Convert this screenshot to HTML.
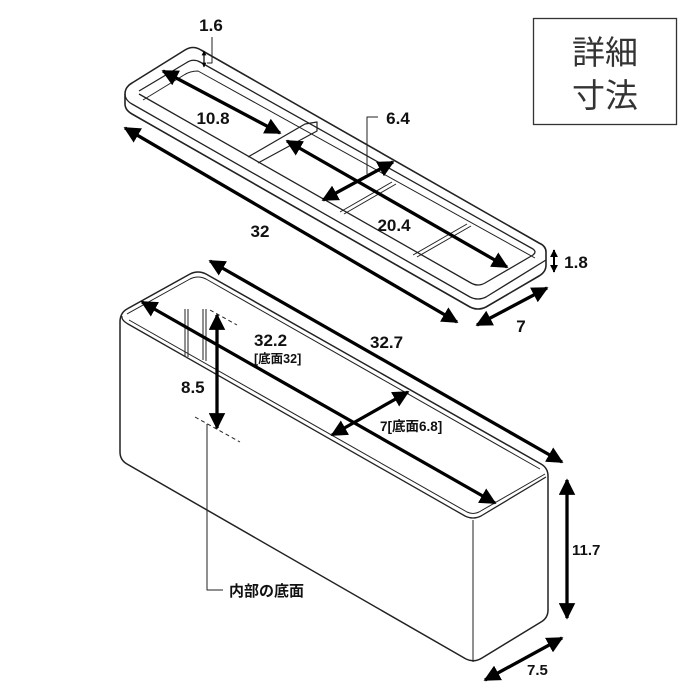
<!DOCTYPE html>
<html><head><meta charset="utf-8"><style>
html,body{margin:0;padding:0;background:#fff;}
svg{display:block;}
text{font-family:"Liberation Sans","Noto Sans CJK JP",sans-serif;fill:#111;}
</style></head><body>
<svg width="700" height="700" viewBox="0 0 700 700" xmlns="http://www.w3.org/2000/svg">
<defs>
<marker id="a" viewBox="0 0 10 10" refX="9" refY="5" markerWidth="5" markerHeight="5" orient="auto-start-reverse" markerUnits="strokeWidth">
<path d="M0,0 L10,5 L0,10 z" fill="#000"/></marker>
<marker id="s" viewBox="0 0 10 10" refX="9" refY="5" markerWidth="4" markerHeight="4" orient="auto-start-reverse" markerUnits="strokeWidth">
<path d="M0,0 L10,5 L0,10 z" fill="#000"/></marker>
</defs>

<rect x="533.5" y="18.5" width="143" height="106" fill="#fff" stroke="#333" stroke-width="1.3"/>
<text x="605" y="64" font-size="33" text-anchor="middle" style="fill:#333">詳細</text>
<text x="605" y="107" font-size="33" text-anchor="middle" style="fill:#333">寸法</text>

<!-- TRAY -->
<g fill="none" stroke="#222" stroke-width="1.6" stroke-linejoin="round">
<path d="M132,83 Q125,87 125,94 L125,104 Q125,110 132,114 L470,307 Q478,311 486,307 L539,276 Q546,272 546,265 L546,252 Q546,246 539,243 L201,50 Q193,45 185,50 Z"/>
<path d="M125,94 Q125,100 132,104 L470,297 Q478,301 486,297 L546,260" stroke-width="1.3"/>
<path d="M139,91 L186,63 Q193,58 200,62 L533,249 Q537,252 533,255 L485,283 Q478,287 471,283 L139,94" stroke-width="1.3"/>
<path d="M143,100 L184,75 Q190,71 198,71 L535,258" stroke-width="1"/>
<path d="M248,157 L305,124 L317,122 L317,131 L258,163" stroke-width="1.2"/>
<path d="M340,212 L392,182 M344,214 L396,184" stroke-width="1"/>
<path d="M413,255 L467,224 M417,257 L471,226" stroke-width="1"/>
<path d="M212,37 L212,63 L207,63" stroke-width="1"/>
<path d="M367,174 L367,117 L378,117" stroke-width="1"/>
</g>
<g stroke="#000" stroke-width="3.3" fill="none">
<line x1="163" y1="71" x2="280" y2="133" marker-start="url(#a)" marker-end="url(#a)"/>
<line x1="287" y1="141" x2="507" y2="267" marker-start="url(#a)" marker-end="url(#a)"/>
<line x1="323" y1="200" x2="393" y2="162" marker-start="url(#a)" marker-end="url(#a)"/>
<line x1="125" y1="128" x2="457" y2="322" marker-start="url(#a)" marker-end="url(#a)"/>
<line x1="477" y1="325" x2="547" y2="288" marker-start="url(#a)" marker-end="url(#a)"/>
<line x1="554" y1="250" x2="554" y2="272" stroke-width="2" marker-start="url(#s)" marker-end="url(#s)"/>
<line x1="204" y1="51" x2="204" y2="67" stroke-width="1.2" marker-start="url(#s)" marker-end="url(#s)"/>
</g>
<g font-size="17" font-weight="bold">
<text x="211" y="31" text-anchor="middle">1.6</text>
<text x="213" y="124" text-anchor="middle">10.8</text>
<text x="398" y="124" text-anchor="middle">6.4</text>
<text x="260" y="237" text-anchor="middle">32</text>
<text x="394" y="231" text-anchor="middle">20.4</text>
<text x="576" y="268" text-anchor="middle">1.8</text>
<text x="521" y="332" text-anchor="middle">7</text>
</g>

<!-- BOX -->
<g fill="none" stroke="#222" stroke-width="1.5" stroke-linejoin="round">
<path d="M127,309 L190,274 Q198,270 206,274 L541,464 Q548,468 548,476 L548,610 Q548,618 541,622 L482,658 Q474,663 466,659 L127,464 Q120,460 120,452 L120,322 Q120,313 127,309 Z"/>
<path d="M122,316 Q121,320 128,324 L465,516 Q473,520 481,516 L546,477" stroke-width="1.3"/>
<path d="M127,314 L190,279 Q198,275 206,279 L540,469" stroke-width="1"/>
<path d="M129,320 L467,512 Q473,515 479,512 L545,474" stroke-width="1"/>
<path d="M473,520 L473,662" stroke-width="1"/>
<path d="M185,309 L185,356 M188,309 L188,357 M203,309 L203,360 M206,309 L206,361" stroke-width="1"/>
<path d="M210,310 L237,325 M195,417 L240,442" stroke-width="1" stroke-dasharray="4,3"/>
<path d="M207,424 L207,590 L223,590" stroke-width="1"/>
</g>
<g stroke="#000" stroke-width="3.3" fill="none">
<line x1="142" y1="302" x2="495" y2="503" marker-start="url(#a)" marker-end="url(#a)"/>
<line x1="210" y1="261" x2="562" y2="462" marker-start="url(#a)" marker-end="url(#a)"/>
<line x1="217" y1="315" x2="217" y2="428" marker-start="url(#a)" marker-end="url(#a)"/>
<line x1="332" y1="435" x2="408" y2="392" marker-start="url(#a)" marker-end="url(#a)"/>
<line x1="567" y1="480" x2="567" y2="618" marker-start="url(#a)" marker-end="url(#a)"/>
<line x1="485" y1="680" x2="562" y2="638" marker-start="url(#a)" marker-end="url(#a)"/>
</g>
<g font-size="17" font-weight="bold">
<text x="254" y="346">32.2</text>
<text x="254" y="363" font-size="12.5">[底面32]</text>
<text x="370" y="348">32.7</text>
<text x="181" y="393">8.5</text>
<text x="380" y="431" font-size="13.5">7[底面6.8]</text>
<text x="572" y="555" font-size="15">11.7</text>
<text x="527" y="675" font-size="15">7.5</text>
<text x="229" y="596" font-size="15">内部の底面</text>
</g>
</svg>
</body></html>
